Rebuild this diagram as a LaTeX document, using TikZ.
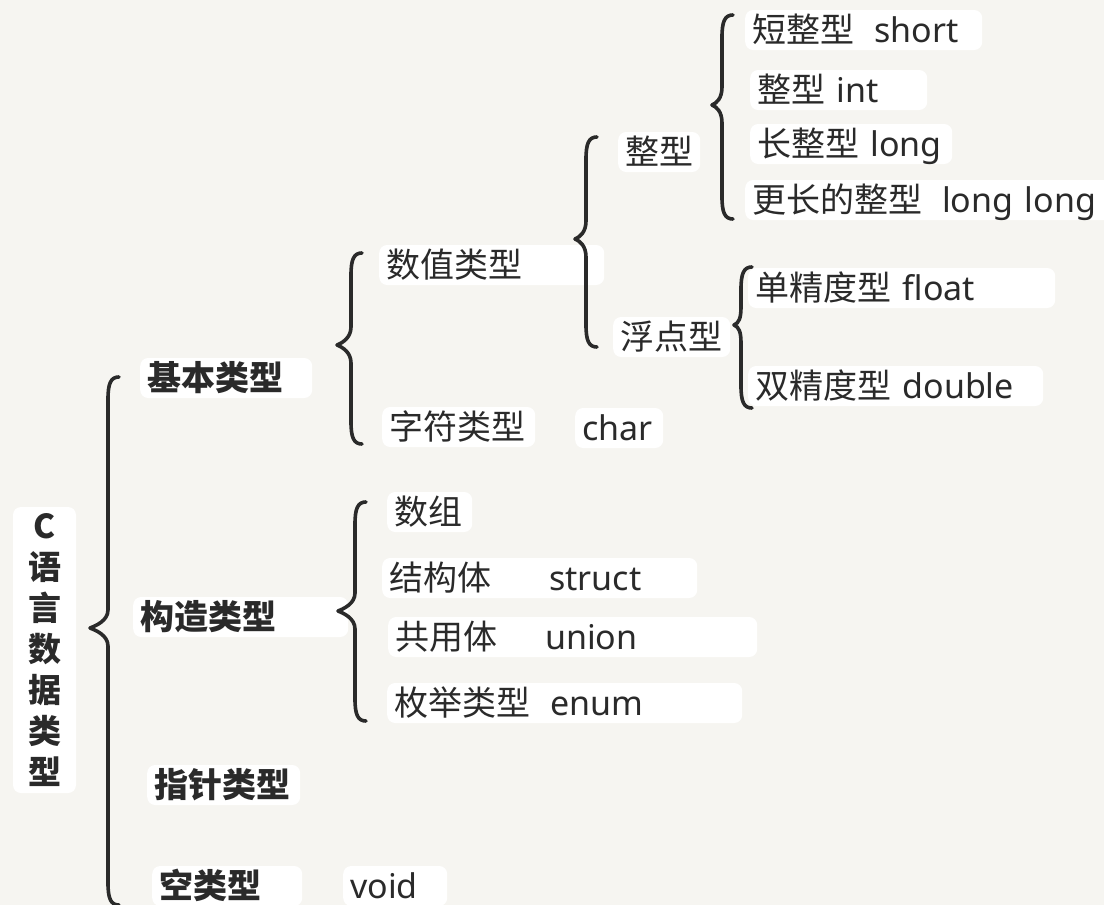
\documentclass[tikz,border=0pt]{standalone}
\usepackage{fontspec}
\setmainfont{Noto Sans}
\newfontfamily\cjk{Noto Sans CJK SC}[BoldFont={Noto Sans CJK SC Black}]
\usepackage{xcolor}
\definecolor{paper}{RGB}{246,245,241}
\definecolor{ink}{RGB}{42,42,42}
\usepackage{tikz}
\usetikzlibrary{positioning}
\newcommand{\zh}[1]{{\cjk #1}}
\newcommand{\handbrace}[5]{%
  \draw[brace line] (#1+11,#2) .. controls (#1+3,#2) and (#1,#2+6) .. (#1,#2+22)
    -- (#1,#4-18) .. controls (#1,#4-7) and (#3+5,#4-2) .. (#3,#4)
    .. controls (#3+5,#4+2) and (#1,#4+7) .. (#1,#4+18)
    -- (#1,#5-22) .. controls (#1,#5-6) and (#1+3,#5) .. (#1+11,#5);}

\begin{document}
\begin{tikzpicture}[x=1pt,y=-1pt,
  item/.style={fill=white,rounded corners=8pt,anchor=west,align=left,inner xsep=7pt,inner ysep=2pt,
    text height=30pt,text depth=6pt,text=ink,font=\fontsize{34}{40}\selectfont},
  heavy/.style={item,font=\fontsize{34}{40}\selectfont\cjk\bfseries},
  rootbox/.style={fill=white,rounded corners=8pt,align=center,inner sep=0pt,minimum width=63pt,
    minimum height=286pt,text=ink,font=\fontsize{33}{41}\selectfont\cjk\bfseries},
  brace line/.style={draw=ink,line width=3.6pt,line cap=round,line join=round}]
\useasboundingbox (0,0) rectangle (1104,905);
\fill[paper] (0,0) rectangle (1104,905);

\node[rootbox] (root) at (44.5,650) {C\\语\\言\\数\\据\\类\\型};

\node[heavy,text width=158pt] (basic) at (140,378) {基本类型};
\node[heavy,text width=201pt] (composite) at (133,617) {构造类型};
\node[heavy,text width=139pt] (pointer) at (147,785) {指针类型};
\node[heavy,text width=136pt] (empty) at (152,886) {空类型};
\node[item,text width=90pt] (void) at (343,886) {void};

\node[item,text width=211pt] (numeric) at (379,265) {\zh{数值类型}};
\node[item,text width=139pt] (character) at (382,427) {\zh{字符类型}};
\node[item,text width=74pt] (chartype) at (575,428) {char};
\node[item,text width=71pt] (array) at (387,512) {\zh{数组}};
\node[item,text width=301pt] (struct) at (382,578) {\zh{结构体}\hspace{58pt}struct};
\node[item,text width=355pt] (union) at (388,637) {\zh{共用体}\hspace{48pt}union};
\node[item,text width=341pt] (enum) at (387,703) {\zh{枚举类型}\hspace{20pt}enum};

\node[item,text width=68pt] (integer) at (618,152) {\zh{整型}};
\node[item,text width=103pt] (floating) at (613,337) {\zh{浮点型}};

\node[item,text width=223pt] (short) at (745,30) {\zh{短整型}\hspace{20pt}short};
\node[item,text width=163pt] (int) at (750,90) {\zh{整型} int};
\node[item,text width=188pt] (long) at (750,144) {\zh{长整型} long};
\node[item,text width=360pt] (longlong) at (745,200) {\zh{更长的整型}\hspace{20pt}long long};
\node[item,text width=293pt] (float) at (748,288) {\zh{单精度型} float};
\node[item,text width=281pt] (double) at (748,386) {\zh{双精度型} double};

\handbrace{108}{377}{90}{628}{905}
\handbrace{351}{253}{337}{345}{444}
\handbrace{586}{137}{575}{239}{347}
\handbrace{722}{15}{712}{105}{219}
\handbrace{741}{267}{734}{325}{408}
\handbrace{355}{502}{338}{611}{721}
\end{tikzpicture}
\end{document}
